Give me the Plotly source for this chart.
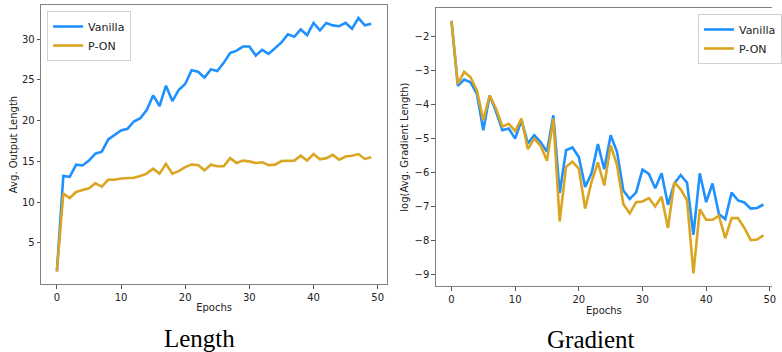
import plotly.graph_objects as go

epochs = list(range(50))

len_vanilla = [1.5, 13.2, 13.1, 14.6, 14.5, 15.1, 15.95, 16.2, 17.7, 18.3,
               18.8, 19.0, 19.9, 20.3, 21.3, 23.1, 21.8, 24.3, 22.4, 23.8,
               24.5, 26.2, 26.0, 25.3, 26.3, 26.1, 27.1, 28.3, 28.6, 29.1,
               29.1, 28.0, 28.7, 28.2, 28.9, 29.6, 30.6, 30.3, 31.2, 30.5,
               32.0, 31.1, 32.0, 31.7, 31.6, 32.0, 31.3, 32.6, 31.7, 31.9]
len_pon = [1.5, 11.05, 10.5, 11.25, 11.5, 11.7, 12.3, 11.9, 12.75, 12.75,
           12.9, 12.95, 13.0, 13.2, 13.5, 14.1, 13.5, 14.7, 13.5, 13.8,
           14.3, 14.6, 14.55, 13.9, 14.6, 14.4, 14.4, 15.4, 14.8, 15.1,
           15.0, 14.8, 14.9, 14.55, 14.6, 15.05, 15.1, 15.1, 15.7, 15.1,
           15.9, 15.25, 15.4, 15.8, 15.2, 15.6, 15.7, 15.9, 15.3, 15.5]

grad_vanilla = [-1.53, -3.44, -3.26, -3.34, -3.68, -4.75, -3.73, -4.2, -4.75, -4.7,
                -5.0, -4.46, -5.14, -4.9, -5.1, -5.39, -4.31, -6.6, -5.34, -5.26,
                -5.54, -6.42, -6.02, -5.16, -5.9, -4.9, -5.39, -6.53, -6.78, -6.58,
                -5.91, -6.04, -6.46, -6.02, -6.95, -6.32, -6.07, -6.3, -7.83, -6.02,
                -6.87, -6.32, -7.22, -7.37, -6.59, -6.82, -6.88, -7.06, -7.04, -6.94]
grad_pon = [-1.53, -3.39, -3.03, -3.19, -3.58, -4.46, -3.73, -4.12, -4.64, -4.56,
            -4.78, -4.41, -5.31, -5.0, -5.21, -5.65, -4.41, -7.44, -5.83, -5.68,
            -5.88, -7.06, -6.27, -5.7, -6.38, -5.19, -5.78, -6.93, -7.2, -6.87,
            -6.85, -6.75, -7.0, -6.71, -7.63, -6.29, -6.49, -6.82, -8.97, -7.08,
            -7.39, -7.39, -7.27, -7.93, -7.34, -7.34, -7.63, -7.99, -7.97, -7.85]

x_ticks = [0, 10, 20, 30, 40, 50]
len_ticks = [5, 10, 15, 20, 25, 30]
grad_ticks = [-9, -8, -7, -6, -5, -4, -3, -2]
grad_tick_text = ["\u22129", "\u22128", "\u22127", "\u22126", "\u22125", "\u22124", "\u22123", "\u22122"]

BLUE = "#1E90FF"
GOLD = "#DAA520"
FONT = "DejaVu Sans"
W, H = 782, 352

fig = go.Figure()
fig.add_trace(go.Scatter(x=epochs, y=len_vanilla, mode="lines", name="Vanilla",
                         line=dict(color=BLUE, width=2.6), xaxis="x", yaxis="y", legend="legend"))
fig.add_trace(go.Scatter(x=epochs, y=len_pon, mode="lines", name="P-ON",
                         line=dict(color=GOLD, width=2.6), xaxis="x", yaxis="y", legend="legend"))
fig.add_trace(go.Scatter(x=epochs, y=grad_vanilla, mode="lines", name="Vanilla",
                         line=dict(color=BLUE, width=2.6), xaxis="x2", yaxis="y2", legend="legend2"))
fig.add_trace(go.Scatter(x=epochs, y=grad_pon, mode="lines", name="P-ON",
                         line=dict(color=GOLD, width=2.6), xaxis="x2", yaxis="y2", legend="legend2"))

axis_common = dict(showgrid=False, zeroline=False, showline=True, linecolor="#808080",
                   linewidth=1, ticks="outside", ticklen=3.5, tickwidth=1, tickcolor="#555",
                   tickfont=dict(family=FONT, size=10, color="#222"))

fig.update_layout(
    width=W, height=H,
    margin=dict(l=0, r=0, t=0, b=0),
    paper_bgcolor="white", plot_bgcolor="white",
    font=dict(family=FONT, size=10, color="#222"),
    xaxis=dict(domain=[41.7 / W, 392 / W], range=[-2.45, 51.45], tickvals=x_ticks, mirror=True,
               anchor="y", title=dict(text="Epochs", font=dict(size=10), standoff=2), **axis_common),
    yaxis=dict(domain=[1 - 284 / H, 1 - 5 / H], range=[-0.05, 34.2], tickvals=len_ticks, mirror=True,
               anchor="x", title=dict(text="Avg. Output Length", font=dict(size=10), standoff=2), **axis_common),
    xaxis2=dict(domain=[441.5 / W, 1.0], range=[-2.45, 50.34], tickvals=x_ticks, mirror=True,
                anchor="y2", ticklabeloverflow="allow",
                title=dict(text="Epochs", font=dict(size=10), standoff=3), **axis_common),
    yaxis2=dict(domain=[1 - 286 / H, 1 - 8.3 / H], range=[-9.34, -1.16], tickvals=grad_ticks, mirror=False,
                anchor="x2", ticktext=grad_tick_text,
                title=dict(text="log(Avg. Gradient Length)", font=dict(size=10), standoff=4), **axis_common),
    legend=dict(x=47.7 / W, y=1 - 11 / H, xanchor="left", yanchor="top", bgcolor="rgba(255,255,255,0.8)",
                bordercolor="#d0d0d0", borderwidth=1, font=dict(family=FONT, size=11, color="#222"),
                tracegroupgap=0),
    legend2=dict(x=707 / W, y=1 - 14 / H, xanchor="left", yanchor="top", bgcolor="rgba(255,255,255,0.8)",
                 bordercolor="#d0d0d0", borderwidth=1, font=dict(family=FONT, size=11, color="#222"),
                 tracegroupgap=0),
    annotations=[
        dict(text="Length", x=202 / W, y=1 - 338 / H, xref="paper", yref="paper", showarrow=False,
             xanchor="center", yanchor="middle",
             font=dict(family="Liberation Serif", size=25, color="black")),
        dict(text="Gradient", x=599 / W, y=1 - 339 / H, xref="paper", yref="paper", showarrow=False,
             xanchor="center", yanchor="middle",
             font=dict(family="Liberation Serif", size=25, color="black")),
    ],
)

fig.write_html("out.html", config={"displayModeBar": False},
               post_script="document.body.style.margin='0';document.body.style.overflow='hidden';")
